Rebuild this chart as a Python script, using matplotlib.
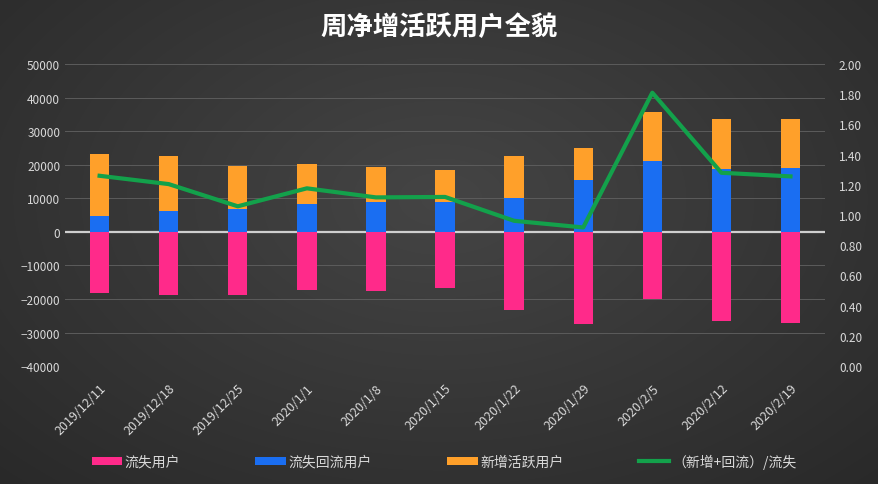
import numpy as np
import matplotlib
matplotlib.use("Agg")
import matplotlib.pyplot as plt

plt.rcParams['font.family'] = ['Noto Sans CJK SC', 'DejaVu Sans']

dates = ["2019/12/11", "2019/12/18", "2019/12/25", "2020/1/1", "2020/1/8",
         "2020/1/15", "2020/1/22", "2020/1/29", "2020/2/5", "2020/2/12", "2020/2/19"]
lost = [-18350, -18750, -18950, -17250, -17550, -16650, -23400, -27400, -19900, -26500, -27100]
returned = [4850, 6250, 6850, 8150, 8850, 9000, 10200, 15550, 21200, 18750, 18950]
new_active = [18350, 16450, 12850, 12050, 10550, 9550, 12500, 9550, 14600, 14850, 14650]
ratio = [1.26, 1.205, 1.058, 1.177, 1.117, 1.12, 0.962, 0.918, 1.81, 1.28, 1.256]

txt = '#d9d9d9'
fig = plt.figure(figsize=(8.79, 4.85), dpi=100)

# background gradient
bg = fig.add_axes([0, 0, 1, 1])
yy, xx = np.mgrid[0:485, 0:879]
r = np.sqrt(((xx - 440) / 520.0) ** 2 + ((yy - 200) / 330.0) ** 2)
shade = np.clip(0.27 - 0.09 * r, 0.14, 0.27)
bg.imshow(np.dstack([shade] * 3), aspect='auto')
bg.axis('off')

ax = fig.add_axes([0.074, 0.243, 0.8646, 0.623])
ax.patch.set_alpha(0)
x = np.arange(len(dates))
w = 0.28
ax.bar(x, lost, w, color='#ff2a8a', label='流失用户', zorder=3)
ax.bar(x, returned, w, color='#1a6ef2', label='流失回流用户', zorder=3)
ax.bar(x, new_active, w, bottom=returned, color='#ffa02a', label='新增活跃用户', zorder=3)

ax.set_ylim(-40000, 50000)
ax.set_yticks(range(-40000, 50001, 10000))
ax.set_xlim(-0.5, 10.5)
ax.set_xticks(x)
ax.set_xticklabels(dates, rotation=45, ha='right', rotation_mode='anchor', fontsize=9)
ax.grid(axis='y', color='#5c5c5c', lw=0.7, zorder=0)
ax.axhline(0, color='#cfcfcf', lw=1.6, zorder=2)
for s in ax.spines.values():
    s.set_visible(False)
ax.tick_params(axis='y', colors=txt, labelsize=8.5, length=0)
ax.tick_params(axis='x', colors=txt, length=0, pad=11)

ax2 = ax.twinx()
ax2.plot(x, ratio, color='#13a14b', lw=3, label='（新增+回流）/流失', zorder=5)
ax2.set_ylim(0, 2.0)
ax2.set_yticks(np.arange(0, 2.01, 0.2))
ax2.set_yticklabels([f"{v:.2f}" for v in np.arange(0, 2.01, 0.2)])
for s in ax2.spines.values():
    s.set_visible(False)
ax2.tick_params(colors=txt, labelsize=8.5, length=0, pad=10)

h1, l1 = ax.get_legend_handles_labels()
h2, l2 = ax2.get_legend_handles_labels()
leg = fig.legend(h1 + h2, l1 + l2, loc='center', bbox_to_anchor=(0.505, 0.047), ncol=4,
                 frameon=False, fontsize=10, columnspacing=5.4, handlelength=2.2,
                 handleheight=0.6, handletextpad=0.2)
for t in leg.get_texts():
    t.set_color(txt)

fig.text(0.5, 0.944, '周净增活跃用户全貌', ha='center', va='center', color='white',
         fontsize=19, fontweight='bold')

fig.savefig('out.png', dpi=100)
